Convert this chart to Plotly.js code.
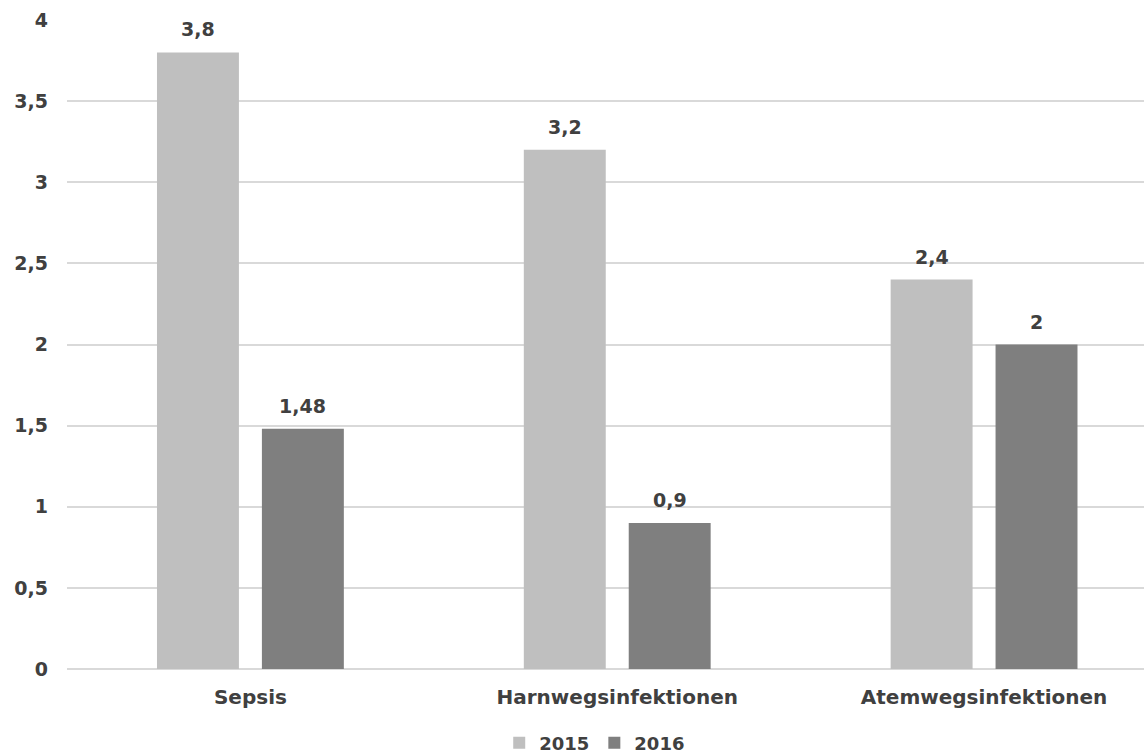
<!DOCTYPE html>
<html><head><meta charset="utf-8">
<script src="https://cdn.plot.ly/plotly-3.0.1.min.js"></script>
<style>html,body{margin:0;padding:0;background:#fff}#c{width:1144px;height:754px}</style>
</head><body><div id="c"></div>
<script>
const categories = ["Sepsis", "Harnwegsinfektionen", "Atemwegsinfektionen"];
const values2015 = [3.8, 3.2, 2.4];
const values2016 = [1.48, 0.9, 2];
const seriesNames = ["2015", "2016"];
const fmt = v => String(v).replace('.', ',');

const FONT = "DejaVu Sans, Liberation Sans, Arial, sans-serif";
const TXT = "#404040";
const labelFont = {family: FONT, size: 19, color: TXT, weight: "bold"};
const traces = [
  {type: "bar", name: seriesNames[0], x: categories, y: values2015,
   marker: {color: "#bfbfbf"}, hoverinfo: "x+y"},
  {type: "bar", name: seriesNames[1], x: categories, y: values2016,
   marker: {color: "#7f7f7f"}, hoverinfo: "x+y"}
];
const annotations = [];
[values2015, values2016].forEach((vals, si) => {
  vals.forEach((v, i) => {
    annotations.push({x: categories[i], y: v, xref: "x", yref: "y",
      text: fmt(v), showarrow: false, xanchor: "center", yanchor: "bottom",
      xshift: si === 0 ? -52.5 : 52.5, yshift: 10, font: labelFont});
  });
});
const layout = {
  width: 1144, height: 754,
  margin: {l: 67, r: 0, t: 20, b: 85},
  paper_bgcolor: "#fff", plot_bgcolor: "#fff",
  separators: ",.",
  barmode: "group", bargap: 0.428, bargroupgap: 0.219,
  font: {family: FONT, size: 19, color: TXT},
  annotations: annotations,
  xaxis: {range: [-0.5, 2.436], showgrid: false, zeroline: false, showline: false,
          ticks: "", ticklabelstandoff: 14,
          tickfont: {family: FONT, size: 20, color: TXT, weight: "bold"}, fixedrange: true},
  yaxis: {range: [0, 4], dtick: 0.5, showgrid: true, gridcolor: "#d9d9d9", gridwidth: 2,
          zeroline: true, zerolinecolor: "#d9d9d9", zerolinewidth: 2, showline: false,
          ticks: "", ticklabelstandoff: 18,
          tickfont: {family: FONT, size: 19, color: TXT, weight: "bold"}, fixedrange: true},
  showlegend: true,
  legend: {orientation: "h", x: 0.49, xanchor: "center", xref: "paper",
           y: 0.0146, yanchor: "middle", yref: "container", tracegroupgap: 0,
           font: {family: FONT, size: 18, color: TXT, weight: "bold"}, itemwidth: 30, traceorder: "normal"}
};
Plotly.newPlot("c", traces, layout, {displayModeBar: false, staticPlot: true});
</script></body></html>
